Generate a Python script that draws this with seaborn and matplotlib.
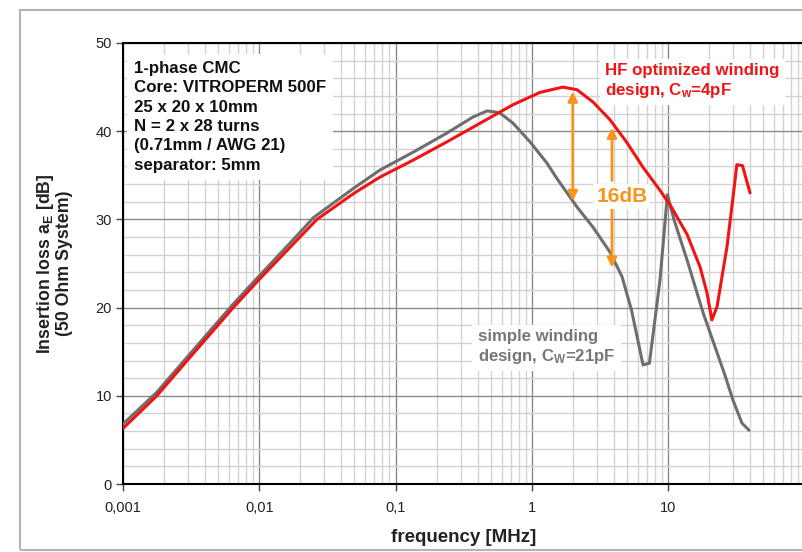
import numpy as np
import pandas as pd
import matplotlib
matplotlib.use("Agg")
import matplotlib.pyplot as plt
import matplotlib.ticker as mticker
from matplotlib.patches import Rectangle
import seaborn as sns

# ---------------- data ----------------
freq_hf = [0.001, 0.00177, 0.003, 0.00644, 0.01, 0.018, 0.0265, 0.05, 0.077, 0.134, 0.239,
           0.417, 0.728, 1.15, 1.69, 2.15, 2.82, 3.75, 5.0, 6.56, 8.73, 10.4, 13.8, 17.2,
           19.3, 21.0, 22.9, 27.1, 30.0, 32.0, 35.2, 40.0]
il_hf = [6.3, 10.0, 14.1, 20.0, 23.2, 27.3, 30.0, 33.0, 34.8, 36.7, 38.8,
         40.9, 43.0, 44.4, 45.0, 44.7, 43.3, 41.3, 38.7, 35.9, 33.3, 31.6, 28.3, 24.6,
         21.7, 18.6, 20.1, 26.9, 32.5, 36.2, 36.1, 33.0]

freq_simple = [0.001, 0.00177, 0.003, 0.00644, 0.01, 0.018, 0.025, 0.05, 0.077, 0.134, 0.239,
               0.37, 0.47, 0.58, 0.73, 0.97, 1.29, 1.52, 2.15, 2.82, 3.75, 4.6, 5.4,
               6.56, 7.3, 8.73, 9.9, 11.1, 13.8, 18.1, 26.1, 30.0, 34.9, 39.3]
il_simple = [6.8, 10.4, 14.5, 20.4, 23.6, 27.8, 30.2, 33.6, 35.6, 37.6, 39.8,
             41.6, 42.3, 42.1, 40.9, 38.8, 36.4, 34.7, 31.4, 29.1, 26.3, 23.5, 19.7,
             13.5, 13.7, 23.1, 32.8, 29.9, 25.4, 19.4, 12.4, 9.5, 6.9, 6.1]

x_ticks = [0.001, 0.01, 0.1, 1, 10]
x_ticklabels = ["0,001", "0,01", "0,1", "1", "10"]
y_ticks = [0, 10, 20, 30, 40, 50]

arrow_freqs = [2.0, 3.88]
delta_label = "16dB"

info_text = ("1-phase CMC\nCore: VITROPERM 500F\n25 x 20 x 10mm\n"
             "N = 2 x 28 turns\n(0.71mm / AWG 21)\nseparator: 5mm")
hf_label = "HF optimized winding\ndesign, C$_\\mathbf{w}$=4pF"
simple_label = "simple winding\ndesign, C$_\\mathbf{W}$=21pF"

df = pd.concat([
    pd.DataFrame({"freq": freq_simple, "il": il_simple, "design": "simple"}),
    pd.DataFrame({"freq": freq_hf, "il": il_hf, "design": "hf"}),
])

# ---------------- style ----------------
sns.set_theme(style="white")
plt.rcParams["font.family"] = ["Liberation Sans", "DejaVu Sans"]
plt.rcParams["mathtext.fontset"] = "custom"
plt.rcParams["mathtext.rm"] = "Liberation Sans"
plt.rcParams["mathtext.bf"] = "Liberation Sans:bold"
plt.rcParams["mathtext.it"] = "Liberation Sans:italic"

RED = "#f01414"
GRAY = "#6e6e6e"
ORANGE = "#f7941d"

fig = plt.figure(figsize=(8.02, 5.52), dpi=100)
fig.patch.set_facecolor("white")
# outer frame
fig.add_artist(Rectangle((20 / 802, 2 / 552), 1.2, 540 / 552, transform=fig.transFigure,
                         fill=False, edgecolor="#b4b4b4", linewidth=1.5, clip_on=False))

ax = fig.add_axes([123 / 802, 1 - 484 / 552, 681 / 802, 441 / 552])
ax.set_xscale("log")

sns.lineplot(data=df, x="freq", y="il", hue="design",
             palette={"simple": GRAY, "hf": RED}, sort=False, estimator=None,
             legend=False, ax=ax, linewidth=2.2, zorder=5)

ax.set_xlim(0.001, 10 ** (1 + 136 / 136.25))
ax.set_ylim(0, 50)

ax.xaxis.set_major_locator(mticker.FixedLocator(x_ticks))
ax.xaxis.set_minor_locator(mticker.LogLocator(base=10, subs=np.arange(2, 10)))
ax.xaxis.set_minor_formatter(mticker.NullFormatter())
ax.set_xticks(x_ticks)
ax.set_xticklabels(x_ticklabels)
ax.set_yticks(y_ticks)
ax.yaxis.set_minor_locator(mticker.MultipleLocator(2))

ax.grid(which="major", color="#8a8a8a", linewidth=1.0, zorder=0)
ax.grid(which="minor", color="#d2d2d2", linewidth=1.0, zorder=0)
ax.set_axisbelow(True)

for s in ["left", "bottom", "top"]:
    ax.spines[s].set_color("black")
    ax.spines[s].set_linewidth(1.5)
ax.spines["right"].set_visible(False)

ax.tick_params(axis="both", which="major", direction="out", length=5, width=1,
               color="#444444", labelsize=10.5, labelcolor="#222222", bottom=True, left=True)
ax.tick_params(axis="x", which="major", pad=7)
ax.tick_params(axis="y", which="major", pad=3)
ax.tick_params(axis="both", which="minor", length=0)

ax.set_xlabel("frequency [MHz]", fontsize=13.5, fontweight="bold", color="#222222", labelpad=10)
ax.set_ylabel("Insertion loss a$_\\mathbf{E}$ [dB]\n(50 Ohm System)", fontsize=12.8,
              fontweight="bold", color="#222222", labelpad=16, linespacing=1.0)

# info box
ax.text(0.016, 0.96, info_text, transform=ax.transAxes, ha="left", va="top",
        fontsize=12.2, fontweight="bold", color="#111111", linespacing=1.37, zorder=6,
        bbox=dict(facecolor="white", edgecolor="none", pad=5))

# series labels
ax.text(0.708, 0.955, hf_label, transform=ax.transAxes, ha="left", va="top",
        fontsize=12.2, fontweight="bold", color=RED, linespacing=1.2, zorder=6,
        bbox=dict(facecolor="white", edgecolor="none", pad=4))
ax.text(0.521, 0.352, simple_label, transform=ax.transAxes, ha="left", va="top",
        fontsize=12.1, fontweight="bold", color="#777777", linespacing=1.2, zorder=6,
        bbox=dict(facecolor="white", edgecolor="none", pad=4))

# difference arrows computed from the curves
lf_hf = np.log10(freq_hf)
lf_si = np.log10(freq_simple)
arrow_kw = dict(color=ORANGE, lw=2, shrinkA=0, shrinkB=0, mutation_scale=14)
f1, f2 = arrow_freqs
top1 = np.interp(np.log10(f1), lf_hf, il_hf)
bot1 = np.interp(np.log10(f1), lf_si, il_simple)
ax.annotate("", xy=(f1, top1 - 0.3), xytext=(f1, bot1),
            arrowprops=dict(arrowstyle="<|-|>", **arrow_kw), zorder=7)
top2 = np.interp(np.log10(f2), lf_hf, il_hf)
bot2 = np.interp(np.log10(f2), lf_si, il_simple)
mid2 = 32.8
ax.annotate("", xy=(f2, top2 - 0.6), xytext=(f2, mid2 + 1.6),
            arrowprops=dict(arrowstyle="-|>", **arrow_kw), zorder=7)
ax.annotate("", xy=(f2, bot2 - 1.3), xytext=(f2, mid2 - 1.5),
            arrowprops=dict(arrowstyle="-|>", **arrow_kw), zorder=7)
ax.text(10 ** (np.log10(f2) + 0.072), mid2 - 0.2, delta_label, ha="center", va="center",
        fontsize=15, fontweight="bold", color=ORANGE, zorder=8,
        bbox=dict(facecolor="white", edgecolor="none", pad=2))

fig.savefig("out.png", dpi=100)
